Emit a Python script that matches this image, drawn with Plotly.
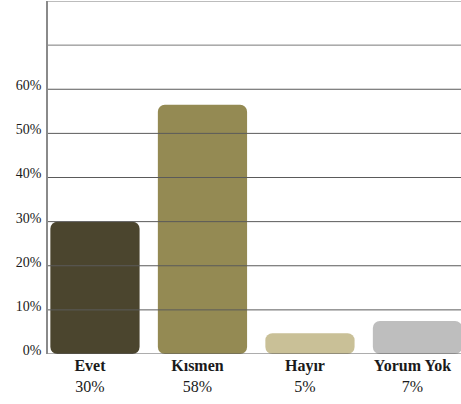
import plotly.graph_objects as go

categories = ["Evet", "Kısmen", "Hayır", "Yorum Yok"]
bar_values = [30, 56.5, 4.7, 7.5]          # bar heights as drawn
label_values = [30, 58, 5, 7]              # percentages printed under bars
colors = ["#4b452e", "#948a53", "#c9c097", "#bebebe"]
grid_values = [0, 10, 20, 30, 40, 50, 60, 70, 80]
tick_labels = ["0%", "10%", "20%", "30%", "40%", "50%", "60%", "", ""]

SERIF = "Liberation Serif, Times New Roman, serif"

fig = go.Figure()
# each bar is drawn from its top down to 0 so that both ends get rounded corners
fig.add_trace(go.Bar(
    x=categories, y=[-v for v in bar_values], base=bar_values,
    marker=dict(color=colors, line=dict(width=0), cornerradius=7),
    width=0.83, hoverinfo="skip", showlegend=False,
))

# gridlines drawn over the bars
for g in grid_values:
    fig.add_shape(type="line", xref="paper", x0=0, x1=1, yref="y", y0=g, y1=g,
                  line=dict(color="#5a5a5a" if g not in (70, 80) else "#7a7a7a", width=1),
                  layer="above")

ticktext = [f"<b>{c}</b><br>{p}%" for c, p in zip(categories, label_values)]

fig.update_layout(
    width=461, height=404,
    margin=dict(l=48, r=0, t=1, b=50, autoexpand=False),
    paper_bgcolor="white", plot_bgcolor="white",
    font=dict(family=SERIF, color="#1a1a1a"),
    xaxis=dict(
        type="category", range=[-0.437, 3.405],
        tickmode="array", tickvals=categories, ticktext=ticktext,
        tickfont=dict(family=SERIF, size=16, color="#1a1a1a"),
        showgrid=False, zeroline=False, showline=False, ticks="",
        ticklabelshift=-5, automargin=False,
    ),
    yaxis=dict(
        range=[0, 80], tickmode="array", tickvals=grid_values, ticktext=tick_labels,
        tickfont=dict(family=SERIF, size=14, color="#1a1a1a"),
        showgrid=False, zeroline=False, showline=True, linecolor="#8a8a8a", linewidth=1.5,
        ticks="", ticklabelshift=-4, ticklabelstandoff=2, automargin=False,
    ),
)

fig.write_html(
    "out.html",
    config={"displayModeBar": False},
    post_script="document.body.style.margin='0';document.body.style.padding='0';document.body.style.overflow='hidden';",
)
